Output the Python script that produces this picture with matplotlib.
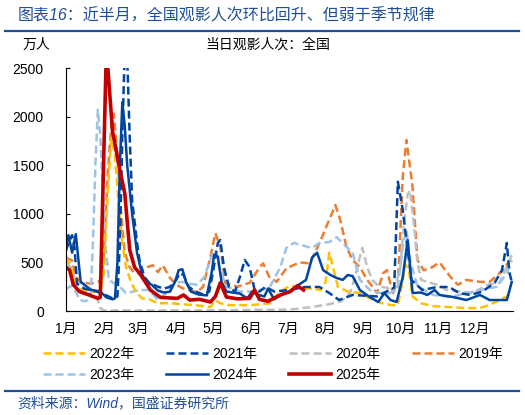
import matplotlib.pyplot as plt
from matplotlib.lines import Line2D

plt.rcParams['font.family'] = ['Liberation Sans', 'Noto Sans CJK SC']

# month ticks (day of year)
month_start = [0, 31, 59, 90, 120, 151, 181, 212, 243, 273, 304, 334]
month_labels = ['1月', '2月', '3月', '4月', '5月', '6月', '7月', '8月', '9月', '10月', '11月', '12月']

# daily box office attendance, 10k people (x = day of year)
d2019 = [0, 5, 8, 12, 20, 26, 29, 31, 34, 37, 39, 42, 45, 48, 52, 56, 60, 66, 71, 75, 79, 85, 90, 95, 107, 112, 118, 122, 126, 130, 140, 150, 158, 161, 166, 172, 180, 191, 199, 207, 216, 220, 224, 229, 234, 240, 246, 254, 259, 262, 267, 271, 275, 278, 283, 287, 292, 299, 305, 314, 320, 327, 338, 346, 357, 364]
v2019 = [550, 520, 350, 300, 280, 300, 320, 600, 1400, 1900, 2030, 1600, 1000, 600, 450, 390, 390, 450, 470, 400, 470, 340, 270, 235, 195, 250, 560, 800, 660, 290, 250, 290, 450, 490, 350, 300, 440, 500, 490, 700, 970, 1090, 935, 660, 525, 450, 320, 185, 390, 420, 185, 247, 1380, 1760, 1275, 525, 420, 450, 500, 350, 270, 320, 300, 300, 420, 555]

d2020 = [0, 4, 8, 15, 20, 25, 28, 31, 100, 183, 200, 215, 225, 232, 236, 240, 242, 246, 250, 256, 262, 268, 273, 276, 279, 281, 284, 287, 290, 295, 303, 311, 322, 332, 344, 354, 364]
v2020 = [500, 450, 300, 280, 230, 150, 30, 5, 5, 15, 40, 70, 100, 185, 350, 560, 650, 450, 320, 250, 240, 200, 450, 900, 1200, 1240, 900, 500, 320, 300, 270, 216, 200, 185, 270, 290, 575]

d2021 = [0, 2, 5, 7, 9, 15, 25, 33, 38, 42, 44, 46, 48, 50, 52, 54, 58, 60, 64, 68, 75, 80, 85, 90, 93, 96, 100, 106, 112, 117, 120, 124, 126, 129, 133, 138, 142, 146, 150, 154, 158, 163, 170, 182, 195, 207, 215, 223, 234, 254, 264, 268, 271, 275, 278, 282, 291, 303, 313, 321, 330, 340, 350, 356, 360, 362, 364]
v2021 = [620, 700, 780, 650, 280, 230, 200, 160, 130, 150, 700, 1800, 2700, 2600, 1800, 1140, 700, 525, 350, 290, 250, 230, 250, 320, 390, 370, 250, 200, 170, 200, 400, 700, 730, 450, 250, 200, 350, 525, 450, 216, 200, 250, 200, 216, 247, 247, 185, 113, 165, 150, 216, 240, 1330, 1040, 730, 320, 216, 247, 247, 185, 165, 200, 290, 420, 700, 400, 300]

d2022 = [0, 4, 8, 12, 20, 28, 31, 34, 37, 40, 43, 46, 49, 53, 57, 62, 68, 75, 85, 95, 105, 112, 118, 122, 126, 133, 142, 150, 160, 167, 175, 183, 190, 200, 208, 212, 215, 218, 222, 230, 240, 250, 258, 266, 271, 274, 277, 280, 283, 290, 300, 314, 327, 338, 345, 352, 360, 364]
v2022 = [560, 450, 250, 220, 200, 200, 400, 1200, 1780, 1600, 1100, 700, 450, 300, 200, 130, 120, 80, 80, 70, 60, 50, 40, 110, 80, 60, 60, 60, 70, 80, 200, 260, 250, 230, 216, 300, 600, 450, 250, 200, 185, 120, 80, 60, 60, 250, 480, 420, 150, 80, 50, 40, 30, 30, 60, 100, 150, 185]

d2023 = [0, 4, 8, 11, 16, 20, 22, 24, 26, 28, 30, 32, 35, 40, 44, 49, 55, 60, 68, 75, 80, 89, 95, 101, 107, 113, 120, 122, 125, 131, 142, 152, 158, 166, 175, 180, 186, 192, 197, 201, 207, 215, 221, 229, 234, 240, 248, 256, 265, 271, 275, 278, 281, 287, 300, 314, 327, 339, 352, 360, 364]
v2023 = [220, 260, 200, 113, 100, 130, 700, 1500, 2070, 1800, 1300, 700, 320, 280, 250, 185, 200, 216, 216, 113, 160, 290, 300, 280, 270, 350, 600, 630, 450, 250, 200, 200, 216, 237, 450, 650, 700, 680, 660, 650, 700, 710, 760, 660, 600, 320, 216, 185, 185, 250, 660, 835, 525, 250, 165, 144, 185, 216, 250, 390, 525]

d2024 = [0, 2, 5, 8, 12, 20, 28, 33, 38, 40, 42, 44, 46, 48, 50, 54, 58, 62, 66, 70, 75, 80, 85, 89, 92, 95, 98, 102, 108, 115, 119, 121, 124, 127, 131, 136, 142, 148, 152, 156, 162, 165, 170, 176, 183, 190, 196, 201, 205, 210, 216, 221, 226, 230, 234, 240, 248, 255, 260, 265, 270, 275, 279, 283, 290, 295, 301, 305, 316, 327, 338, 346, 360, 364]
v2024 = [650, 780, 600, 790, 300, 220, 200, 140, 120, 130, 500, 1500, 2150, 1900, 1500, 1000, 600, 380, 290, 270, 210, 190, 200, 300, 420, 430, 300, 200, 170, 160, 400, 580, 560, 300, 200, 190, 180, 130, 200, 170, 150, 230, 120, 170, 200, 270, 320, 550, 600, 420, 370, 340, 320, 370, 360, 216, 144, 93, 185, 113, 93, 350, 730, 185, 190, 165, 216, 165, 144, 113, 165, 113, 113, 300]

d2025 = [0, 3, 6, 11, 20, 26, 28, 33, 38, 44, 48, 52, 56, 60, 69, 77, 91, 96, 101, 109, 118, 122, 126, 131, 140, 150, 154, 158, 165, 175, 183, 189, 194]
v2025 = [450, 420, 270, 200, 160, 130, 140, 2700, 1850, 1450, 1210, 630, 450, 390, 215, 140, 130, 165, 113, 120, 93, 150, 290, 144, 125, 130, 216, 120, 100, 165, 200, 260, 216]

fig = plt.figure(figsize=(5.25, 4.15), dpi=100)
ax = fig.add_axes([0.1257, 0.2506, 0.8514, 0.5855])

dash = (0, (3.2, 1.6))
lines = {}
lines['2019'] = ax.plot(d2019, v2019, color='#ED7D31', lw=1.8, ls=dash)[0]
lines['2020'] = ax.plot(d2020, v2020, color='#BFBFBF', lw=1.8, ls=dash)[0]
lines['2023'] = ax.plot(d2023, v2023, color='#9DC3E6', lw=1.8, ls=dash)[0]
lines['2022'] = ax.plot(d2022, v2022, color='#FFC000', lw=1.8, ls=dash)[0]
lines['2021'] = ax.plot(d2021, v2021, color='#0046A0', lw=1.8, ls=dash)[0]
lines['2024'] = ax.plot(d2024, v2024, color='#0046A0', lw=1.8)[0]
lines['2025'] = ax.plot(d2025, v2025, color='#C00000', lw=2.6)[0]

ax.set_xlim(0, 365)
ax.set_ylim(0, 2500)
ax.set_yticks([0, 500, 1000, 1500, 2000, 2500])
ax.set_xticks(month_start)
ax.set_xticklabels(month_labels)
ax.tick_params(axis='both', direction='in', length=3, labelsize=10, colors='black')
ax.tick_params(axis='x', length=0, pad=8)
ax.tick_params(axis='y', pad=16)
for lab in ax.get_yticklabels():
    lab.set_horizontalalignment('right')
ax.spines['top'].set_visible(False)
ax.spines['right'].set_visible(False)

title_color = '#1F4E9A'
fig.text(0.033, 0.962, '图表16：近半月，全国观影人次环比回升、但弱于季节规律',
         fontsize=11.5, color=title_color, va='center', style='italic')
fig.add_artist(Line2D([0.01, 0.988], [0.925, 0.925], color=title_color, lw=1.6))
fig.text(0.07, 0.892, '万人', fontsize=10, ha='center', va='center')
fig.text(0.51, 0.892, '当日观影人次：全国', fontsize=10, ha='center', va='center')

order = ['2022', '2023', '2021', '2024', '2020', '2025', '2019']
fig.legend([lines[k] for k in order], [k + '年' for k in order], ncol=4,
           loc='center', bbox_to_anchor=(0.52, 0.122), frameon=False, fontsize=10,
           handlelength=3.0, columnspacing=2.3, labelspacing=0.55, handletextpad=0.3)

fig.add_artist(Line2D([0.01, 0.988], [0.058, 0.058], color=title_color, lw=1.6))
fig.text(0.033, 0.029, '资料来源：Wind，国盛证券研究所', fontsize=10, color=title_color,
         va='center', style='italic')

fig.savefig('out.png', dpi=100)
